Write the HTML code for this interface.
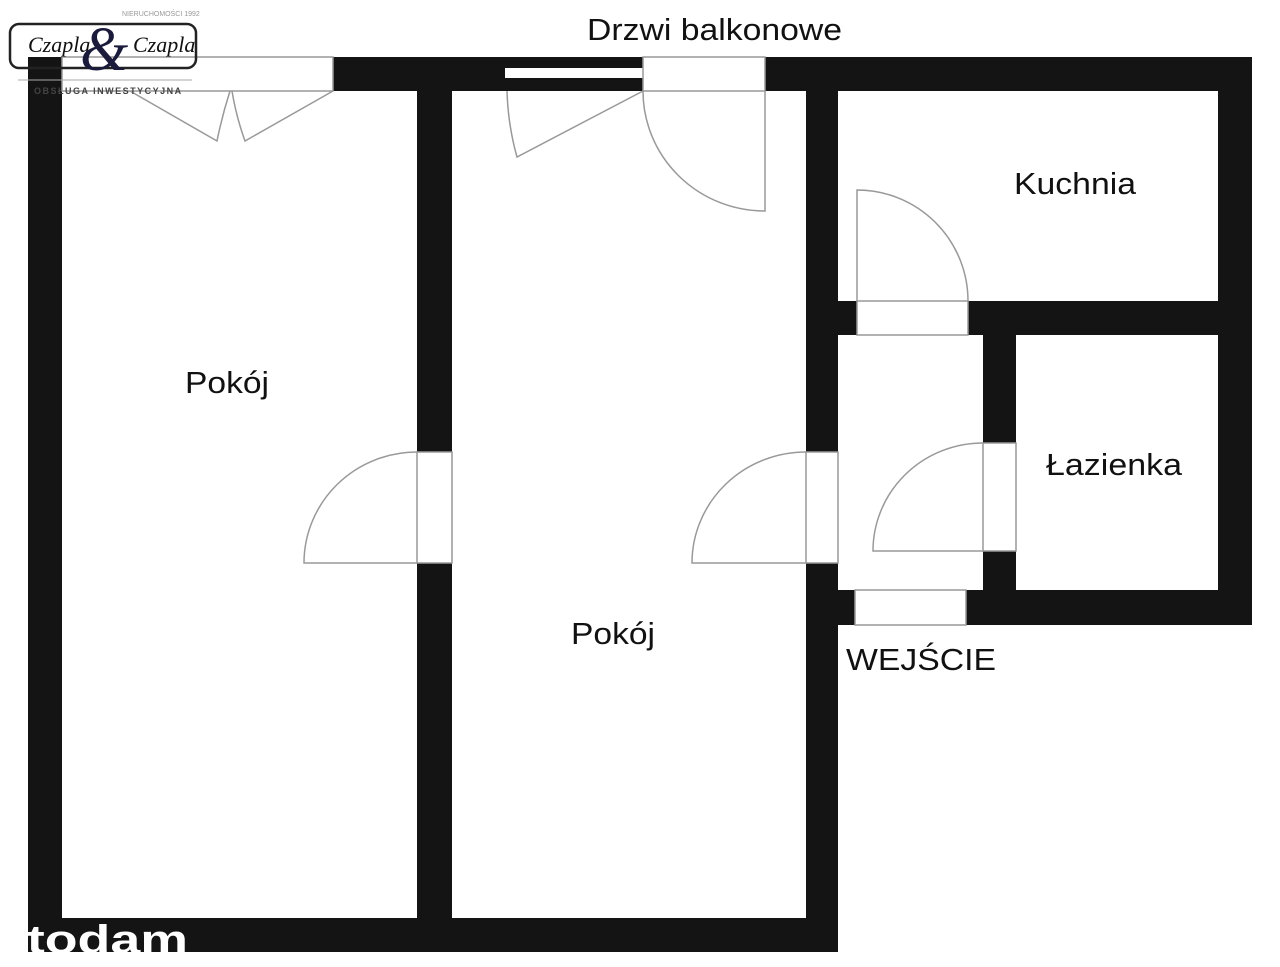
<!DOCTYPE html>
<html><head><meta charset="utf-8"><style>
html,body{margin:0;padding:0;background:#fff;width:1280px;height:967px;overflow:hidden}
svg{display:block}
text{font-family:"Liberation Sans",sans-serif;fill:#111}
</style></head><body>
<svg width="1280" height="967" viewBox="0 0 1280 967" xmlns="http://www.w3.org/2000/svg">
<g fill="#141414">
<rect x="28" y="57" width="34" height="895"/>
<rect x="28" y="918" width="810" height="34"/>
<rect x="28" y="57" width="34" height="34"/>
<rect x="333" y="57" width="172" height="34"/>
<rect x="505" y="57" width="138" height="11"/>
<rect x="505" y="78" width="138" height="13"/>
<rect x="765" y="57" width="487" height="34"/>
<rect x="417" y="91" width="35" height="361"/>
<rect x="417" y="563" width="35" height="355"/>
<rect x="806" y="91" width="32" height="361"/>
<rect x="806" y="563" width="32" height="389"/>
<rect x="1218" y="57" width="34" height="568"/>
<rect x="838" y="301" width="19" height="34"/>
<rect x="968" y="301" width="284" height="34"/>
<rect x="983" y="335" width="33" height="108"/>
<rect x="983" y="551" width="33" height="39"/>
<rect x="966" y="590" width="286" height="35"/>
<rect x="838" y="590" width="17" height="35"/>
</g>
<g fill="none" stroke="#999" stroke-width="1.5">
<rect x="62" y="57" width="271" height="34"/>
<path d="M130 91 L217 141 Q222 116 230 91"/>
<path d="M333 91 L245 141 Q236 116 232 91"/>
<rect x="643" y="57" width="122" height="34"/>
<path d="M643 91 L517 157 Q508 125 507 91"/>
<path d="M643 91 A122 120 0 0 0 765 211 L765 91"/>
<rect x="857" y="301" width="111" height="34"/>
<path d="M857 301 L857 190 A111 111 0 0 1 968 301"/>
<rect x="417" y="452" width="35" height="111"/>
<path d="M417 563 L304 563 A113 111 0 0 1 417 452"/>
<rect x="806" y="452" width="32" height="111"/>
<path d="M806 563 L692 563 A114 111 0 0 1 806 452"/>
<rect x="983" y="443" width="33" height="108"/>
<path d="M983 551 L873 551 A110 108 0 0 1 983 443"/>
<rect x="855" y="590" width="111" height="35"/>
</g>
<g font-size="31">
<text x="587" y="40" textLength="255" lengthAdjust="spacingAndGlyphs">Drzwi balkonowe</text>
<text x="1014" y="194" textLength="122" lengthAdjust="spacingAndGlyphs">Kuchnia</text>
<text x="185" y="393" textLength="84" lengthAdjust="spacingAndGlyphs">Pokój</text>
<text x="571" y="644" textLength="84" lengthAdjust="spacingAndGlyphs">Pokój</text>
<text x="1046" y="475" textLength="136" lengthAdjust="spacingAndGlyphs">Łazienka</text>
<text x="846" y="670" textLength="150" lengthAdjust="spacingAndGlyphs">WEJŚCIE</text>
</g>
<rect x="10" y="24" width="186" height="44" rx="9" fill="none" stroke="#222" stroke-width="2.5"/>
<line x1="18" y1="80" x2="192" y2="80" stroke="#aaa" stroke-width="1"/>
<text x="28" y="52" font-size="22" font-style="italic" style="font-family:'Liberation Serif',serif">Czapla</text>
<text x="133" y="52" font-size="22" font-style="italic" style="font-family:'Liberation Serif',serif">Czapla</text>
<text x="80" y="70" font-size="62" font-style="italic" style="font-family:'Liberation Serif',serif;fill:#1a1a3a">&amp;</text>
<text x="122" y="16" font-size="7" style="fill:#999">NIERUCHOMOŚCI 1992</text>
<text x="34" y="94" font-size="9" font-weight="bold" letter-spacing="1.5" style="fill:#444">OBSŁUGA INWESTYCYJNA</text>
<text x="-6" y="953" font-size="40" font-weight="bold" style="fill:#fff" textLength="194" lengthAdjust="spacingAndGlyphs">otodam</text>
</svg>
</body></html>
